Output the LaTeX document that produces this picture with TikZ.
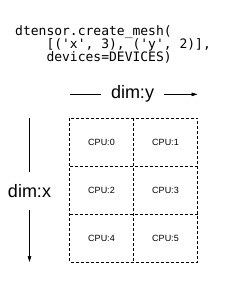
\documentclass[tikz,border=0pt]{standalone}
\usepackage{fontspec}
\setmainfont{Liberation Sans}
\setmonofont{DejaVu Sans Mono}
\usetikzlibrary{positioning,arrows.meta}

\begin{document}
\begin{tikzpicture}[
  x=1pt,y=1pt,
  node distance=0pt,
  cell/.style={minimum width=64pt,minimum height=48pt,inner sep=0pt,outer sep=0pt,
               font=\fontsize{9}{10}\selectfont},
  gridline/.style={dash pattern=on 3pt off 2pt,line width=0.65pt},
  dimlbl/.style={font=\fontsize{18}{20}\selectfont,inner sep=0pt},
  axis/.style={line width=0.65pt},
  arr/.style={axis,-{Triangle[length=6pt,width=3.6pt]}},
]
\useasboundingbox (0,0) rectangle (228,-288);

\node[anchor=north west,align=left,inner sep=0pt,
      font=\ttfamily\fontsize{13}{13}\selectfont] (code) at (15,-25.5)
  {dtensor.create\_mesh(\\
   \phantom{xxxx}[('x', 3), ('y', 2)],\\
   \phantom{xxxx}devices=DEVICES)};

% mesh cells
\node[cell] (c0) at (101.5,-142) {CPU:0};
\node[cell,right=of c0] (c1) {CPU:1};
\node[cell,below=of c0] (c2) {CPU:2};
\node[cell,right=of c2] (c3) {CPU:3};
\node[cell,below=of c2] (c4) {CPU:4};
\node[cell,right=of c4] (c5) {CPU:5};

\draw[gridline] (c0.north west) rectangle (c5.south east);
\draw[gridline] (c0.north east) -- (c4.south east);
\draw[gridline] (c0.south west) -- (c1.south east);
\draw[gridline] (c2.south west) -- (c3.south east);

% mesh dimensions
\node[dimlbl,inner xsep=10pt,anchor=base] (dimy) at (132.5,-99) {dim:y};
\node[dimlbl,inner ysep=12pt] (dimx) at (29.5,-191) {dim:x};

\coordinate (ystart) at (c0.north west |- dimy.west);
\coordinate (yend) at (c1.north east |- dimy.east);
\coordinate (xstart) at (dimx |- c0.north);
\coordinate (xend) at (dimx |- c4.south);

\draw[axis] (ystart) -- (dimy.west);
\draw[arr] (dimy.east) -- (yend);
\draw[axis] (xstart) -- (dimx.north);
\draw[arr] (dimx.south) -- (xend);
\end{tikzpicture}
\end{document}
